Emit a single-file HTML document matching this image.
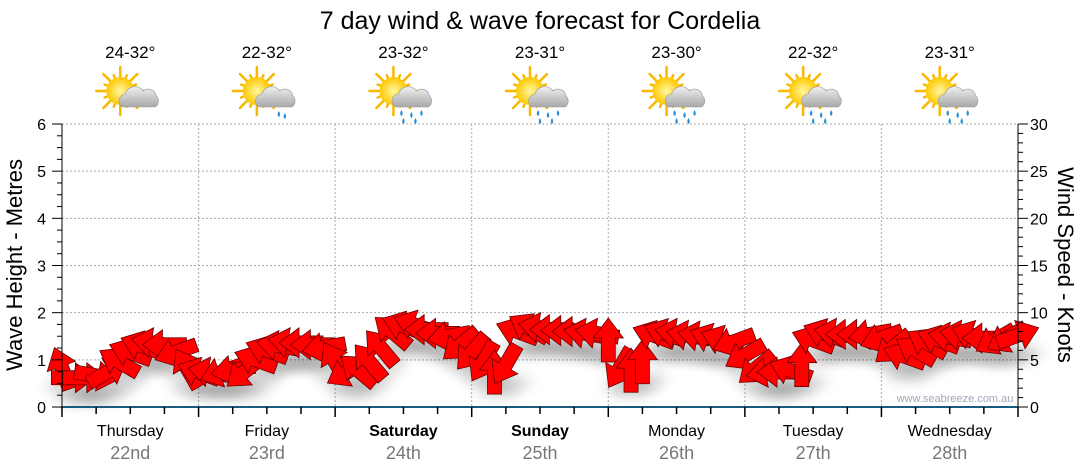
<!DOCTYPE html>
<html><head><meta charset="utf-8"><style>
body{margin:0;background:#fff;}
svg{display:block;font-family:"Liberation Sans","DejaVu Sans",sans-serif;}
</style></head><body>
<svg id="c" width="1080" height="475" viewBox="0 0 1080 475">
<defs>
<filter id="sh" x="-50%" y="-50%" width="200%" height="250%"><feGaussianBlur stdDeviation="6"/></filter>
<radialGradient id="sun" cx="0.5" cy="0.5" r="0.5"><stop offset="0" stop-color="#fff7a0"/><stop offset="1" stop-color="#ffc800"/></radialGradient>
<linearGradient id="cloud" x1="0" y1="0" x2="0" y2="1"><stop offset="0" stop-color="#f0f0f0"/><stop offset="1" stop-color="#a8a8a8"/></linearGradient>
</defs>
<text x="540" y="29" text-anchor="middle" font-size="25" fill="#000">7 day wind &amp; wave forecast for Cordelia</text>
<g id="grid"></g>
<g id="shadows"></g>
<g id="arrows"></g>
<g id="axes"></g>
<g id="top"></g>
<text x="955" y="402" text-anchor="middle" font-size="11" fill="#a0a8b8">www.seabreeze.com.au</text>
<text transform="translate(22,265) rotate(-90)" text-anchor="middle" font-size="22" fill="#000">Wave Height - Metres</text>
<text transform="translate(1058,265) rotate(90)" text-anchor="middle" font-size="22" fill="#000">Wind Speed - Knots</text>
</svg>
<script>
const days = ["Thursday","Friday","Saturday","Sunday","Monday","Tuesday","Wednesday"];
const dates = ["22nd","23rd","24th","25th","26th","27th","28th"];
const boldDays = [false,false,true,true,false,false,false];
const temps = ["24-32°","22-32°","23-32°","23-31°","23-30°","22-32°","23-31°"];
const rainy = [0,1,2,2,2,2,2];
const waveTicks = [0,1,2,3,4,5,6];
const windTicks = [0,5,10,15,20,25,30];
const windSpeed = [
4.1,3.1,3.1,3.3,3.7,4.8,5.8,6.5,6.8,6.6,5.8,4.1,
3.7,3.7,3.7,3.9,3.7,5.0,6.0,6.5,6.8,6.8,6.6,6.3,
4.8,3.7,3.9,4.8,6.3,8.0,8.6,8.7,8.2,7.8,7.5,6.6,
5.8,4.8,3.7,4.5,8.0,8.4,8.4,8.2,8.1,8.0,7.8,7.8,
7.1,4.1,3.9,4.8,7.6,7.8,7.8,7.6,7.5,7.3,7.1,6.9,
5.5,4.1,3.7,3.7,3.9,4.5,7.1,7.8,7.8,7.7,7.7,7.7,
7.3,6.3,5.4,6.0,6.8,7.1,7.4,7.6,7.6,7.3,7.1,7.3,7.6];
const windDir = [
250,0,0,10,330,210,200,200,190,180,160,240,
200,190,160,170,140,200,200,190,190,180,180,170,
240,150,220,230,230,220,200,200,180,180,170,140,
130,120,270,120,200,210,190,180,180,180,190,190,
270,120,270,270,200,200,190,190,190,200,200,160,
150,140,170,180,200,270,200,200,190,180,180,170,
160,140,200,210,210,200,190,190,200,180,150,150,340];

const X0=62,X1=1018,Y0=407,Y1=124, NS="http://www.w3.org/2000/svg";
const nHours=7*24;
const xH=h=>X0+(X1-X0)*h/nHours;
const yWave=m=>Y0-(Y0-Y1)*m/6;
const yWind=k=>Y0-(Y0-Y1)*k/30;
function mk(tag,attrs,parent,txt){const e=document.createElementNS(NS,tag);for(const k in attrs)e.setAttribute(k,attrs[k]);if(txt!==undefined)e.textContent=txt;parent.appendChild(e);return e;}
const grid=document.getElementById('grid'),axes=document.getElementById('axes'),top_=document.getElementById('top');
const arrows=document.getElementById('arrows'),shadows=document.getElementById('shadows');

waveTicks.forEach(v=>{ if(v>0){const l=mk('line',{x1:X0,x2:X1,y1:yWave(v),y2:yWave(v),stroke:'#aaa','stroke-dasharray':'2,2'},grid);

}});
for(let d=1;d<=7;d++){const x=xH(d*24);const l=mk('line',{x1:x,x2:x,y1:Y1,y2:Y0,stroke:'#aaa','stroke-dasharray':'2,2'},grid);

}
mk('line',{x1:X0,x2:X0,y1:Y1,y2:Y0,stroke:'#000'},axes);
mk('line',{x1:X1,x2:X1,y1:Y1,y2:Y0,stroke:'#000'},axes);
mk('line',{x1:X0-1,x2:X1,y1:Y0,y2:Y0,stroke:'#1a5a80','stroke-width':2},axes);
for(let i=0;i<=24;i++){const v=i*0.25;const y=yWave(v);const maj=i%4===0;
 mk('line',{x1:X0-(maj?10:5),x2:X0,y1:y,y2:y,stroke:'#000'},axes);}
for(let i=0;i<=30;i++){const y=yWind(i);const maj=i%5===0;
 mk('line',{x1:X1,x2:X1+(maj?10:5),y1:y,y2:y,stroke:'#000'},axes);}
waveTicks.forEach(v=>{const t=mk('text',{x:46,y:yWave(v)+6,'text-anchor':'end','font-size':16,fill:'#000'},axes,v);

});
windTicks.forEach(v=>{const t=mk('text',{x:1030,y:yWind(v)+6,'font-size':16,fill:'#000'},axes,v);

});
for(let h=0;h<=nHours;h+=6){const x=xH(h);mk('line',{x1:x,x2:x,y1:Y0,y2:Y0+(h%24===0?10:7),stroke:'#000','stroke-width':1.5},axes);}
days.forEach((d,i)=>{const cx=xH(i*24+12);
 const t=mk('text',{x:cx,y:436,'text-anchor':'middle','font-size':16,'font-weight':boldDays[i]?'bold':'normal',fill:'#000'},axes,d);
 
 
 const t2=mk('text',{x:cx,y:459,'text-anchor':'middle','font-size':18,fill:'#777'},axes,dates[i]);
 
 
 const t3=mk('text',{x:cx,y:58,'text-anchor':'middle','font-size':17,fill:'#000'},top_,temps[i]);
 
 
 const g=mk('g',{transform:`translate(${cx-2},95)`},top_);
 
 
 for(let r=0;r<16;r++){const a=r*22.5*Math.PI/180;const L=r%2?17:24;
  mk('line',{x1:-8+Math.cos(a)*10,y1:-4+Math.sin(a)*10,x2:-8+Math.cos(a)*L,y2:-4+Math.sin(a)*L,stroke:'#f8b800','stroke-width':2.5,'stroke-linecap':'round'},g);}
 mk('circle',{cx:-8,cy:-4,r:14,fill:'url(#sun)'},g);
 mk('path',{d:'M-6,12 a7,7 0 0 1 3,-13 a10,10 0 0 1 18,-3 a8,8 0 0 1 13,5 a7,7 0 0 1 -1,11 z',fill:'url(#cloud)',stroke:'#999','stroke-width':0.6},g);
 if(rainy[i]){const drops=rainy[i]===1?[[14,19],[20,21]]:[[0,18],[10,20],[20,18],[2,26],[14,26]];
  drops.forEach(p=>mk('path',{d:`M${p[0]},${p[1]-3} q2.5,4 0,6 q-2.5,-2 0,-6z`,fill:'#2a8fd8'},g));}
});
const AR='M-22,-7 L2,-7 L2,-15 L22,0 L2,15 L2,7 L-22,7 Z';
windSpeed.forEach((k,i)=>{const x=xH(i*2),y=yWind(k);
 const s=mk('ellipse',{cx:x+4,cy:y+18,rx:22,ry:9,fill:'#000',opacity:0.12,filter:'url(#sh)'},shadows);
 
 
 const a=mk('path',{d:AR,transform:`translate(${x},${y}) rotate(${windDir[i]})`,fill:'#ff0000',stroke:'#6a0000','stroke-width':0.8,'stroke-linejoin':'miter'},arrows);
 
 
});
</script>
</body></html>
